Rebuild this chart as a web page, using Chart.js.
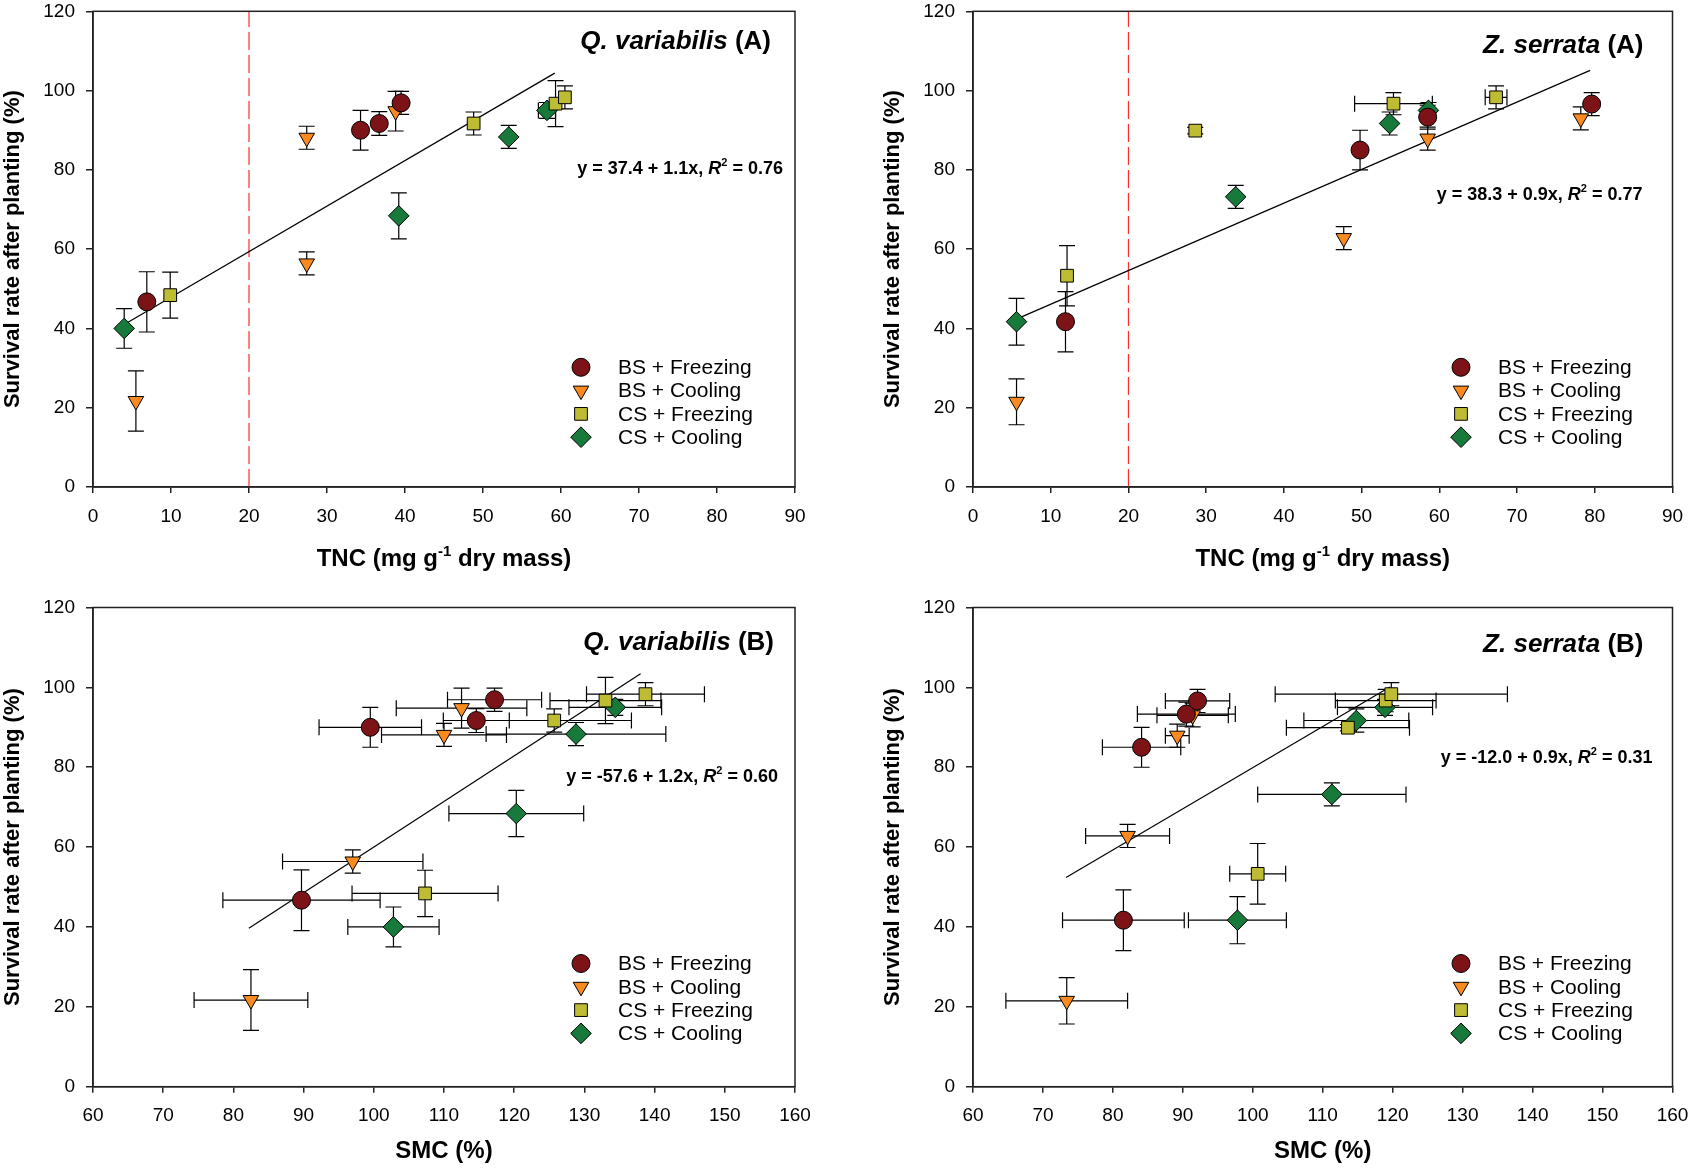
<!DOCTYPE html>
<html>
<head>
<meta charset="utf-8">
<script src="https://cdn.jsdelivr.net/npm/chart.js@4.4.1/dist/chart.umd.min.js"></script>
<style>
html,body{margin:0;padding:0;background:#fff;}
#wrap{position:relative;width:1692px;height:1170px;overflow:hidden;background:#fff;}
#wrap canvas{position:absolute;}
</style>
</head>
<body>
<div id="wrap">
<canvas id="c1" width="846" height="585" style="left:0px;top:0px;width:846px;height:585px"></canvas>
<canvas id="c2" width="846" height="585" style="left:846px;top:0px;width:846px;height:585px"></canvas>
<canvas id="c3" width="846" height="585" style="left:0px;top:585px;width:846px;height:585px"></canvas>
<canvas id="c4" width="846" height="585" style="left:846px;top:585px;width:846px;height:585px"></canvas>
</div>
<script>
// ---------------- DATA ----------------
const groupNames = ['BS + Freezing', 'BS + Cooling', 'CS + Freezing', 'CS + Cooling'];
const survivalTicks = [0, 20, 40, 60, 80, 100, 120];
const tncTicks = [0, 10, 20, 30, 40, 50, 60, 70, 80, 90];
const smcTicks = [60, 70, 80, 90, 100, 110, 120, 130, 140, 150, 160];
const tncThreshold = 20;

// Quercus variabilis (rows: BS+Freezing, BS+Cooling, CS+Freezing, CS+Cooling)
const qvSurvival    = [[46.7, 90.0, 91.7, 96.9], [21.7, 56.4, 88.1, 94.8], [48.4, 91.7, 96.7, 98.3], [40.0, 68.4, 88.3, 95.0]];
const qvSurvivalErr = [[7.6, 5.0, 3.0, 2.9], [7.6, 2.9, 2.9, 5.0], [5.8, 2.9, 5.8, 2.9], [5.0, 5.8, 2.9, 2.0]];
const qvTNC         = [[6.9, 34.3, 36.7, 39.5], [5.5, 27.4, 27.4, 38.8], [9.9, 48.8, 59.3, 60.5], [4.0, 39.2, 53.3, 58.2]];
const qvTNCErr      = [[0, 0, 0, 0], [0, 0, 0, 0], [0, 0, 0, 0], [0, 0, 0, 1.1]];
const qvSMC         = [[89.7, 99.5, 114.6, 117.2], [82.5, 97.0, 110.0, 112.5], [107.3, 125.7, 133.0, 138.7], [102.8, 120.3, 128.8, 134.4]];
const qvSMCErr      = [[11.2, 7.3, 4.7, 6.7], [8.1, 10.0, 8.9, 9.3], [10.4, 11.0, 7.9, 8.4], [6.5, 9.6, 12.8, 6.6]];

// Zelkova serrata
const zsSurvival    = [[41.7, 85.0, 93.3, 96.6], [21.5, 62.8, 87.9, 93.0], [53.3, 89.9, 96.7, 98.3], [41.7, 73.2, 91.7, 95.0]];
const zsSurvivalErr = [[7.6, 5.0, 3.0, 2.9], [5.8, 2.9, 2.9, 2.9], [7.6, 0.8, 2.8, 2.9], [5.9, 2.9, 2.9, 2.0]];
const zsTNC         = [[11.9, 49.8, 58.5, 79.6], [5.6, 47.7, 58.5, 78.2], [12.1, 28.6, 54.1, 67.3], [5.6, 33.8, 53.6, 58.6]];
const zsTNCErr      = [[0, 0, 0, 0], [0, 0, 0, 0], [0, 0, 5.0, 1.4], [0, 0, 0, 0]];
const zsSMC         = [[81.5, 84.1, 90.5, 92.1], [73.4, 82.1, 89.2, 91.4], [100.7, 113.6, 119.0, 119.8], [97.8, 111.3, 114.8, 118.9]];
const zsSMCErr      = [[8.7, 5.6, 7.0, 4.6], [8.7, 6.0, 1.7, 5.1], [4.0, 8.8, 7.2, 16.6], [7.0, 10.6, 7.5, 6.8]];

// Regression lines (end points)
const qvFitTNCx = [4.0, 59.2],   qvFitTNCy = [41.0, 104.4];
const zsFitTNCx = [6.1, 79.4],   zsFitTNCy = [42.8, 105.1];
const qvFitSMCx = [82.2, 138.0], qvFitSMCy = [39.7, 103.4];
const zsFitSMCx = [73.3, 119.6], zsFitSMCy = [52.4, 100.1];

// ---------------- STYLE ----------------
const FAM = "'Liberation Sans', Arial, Helvetica, sans-serif";
Chart.defaults.font.family = FAM;
Chart.defaults.color = '#000';
const AXC = '#222';
const CAP = 8;
const groupStyles = [
  { pointStyle: 'circle',   radius: 9,    rotation: 0,   color: '#7c1417' },
  { pointStyle: 'triangle', radius: 9,    rotation: 180, color: '#f88a20' },
  { pointStyle: 'rect',     radius: 9,    rotation: 0,   color: '#bebc33' },
  { pointStyle: 'rectRot',  radius: 10.3, rotation: 0,   color: '#177a3b' }
];

function segW(ctx, segs) { let w = 0; for (const s of segs) { ctx.font = s.font; w += ctx.measureText(s.t).width; } return w; }
function drawRich(ctx, segs, x, y, align) {
  const w = segW(ctx, segs);
  let cx = align === 'right' ? x - w : (align === 'center' ? x - w / 2 : x);
  ctx.textAlign = 'left'; ctx.textBaseline = 'alphabetic'; ctx.fillStyle = '#000';
  for (const s of segs) { ctx.font = s.font; ctx.fillText(s.t, cx, y + (s.dy || 0)); cx += ctx.measureText(s.t).width; }
}
function marker(ctx, st, x, y) {
  const r = st.radius;
  ctx.beginPath();
  if (st.pointStyle === 'circle') { ctx.arc(x, y, r, 0, Math.PI * 2); }
  else if (st.pointStyle === 'triangle') {
    let a = st.rotation * Math.PI / 180;
    ctx.moveTo(x + Math.sin(a) * r, y - Math.cos(a) * r);
    a += 2 * Math.PI / 3; ctx.lineTo(x + Math.sin(a) * r, y - Math.cos(a) * r);
    a += 2 * Math.PI / 3; ctx.lineTo(x + Math.sin(a) * r, y - Math.cos(a) * r);
    ctx.closePath();
  } else if (st.pointStyle === 'rect') { const s = Math.SQRT1_2 * r; ctx.rect(x - s, y - s, 2 * s, 2 * s); }
  else { ctx.moveTo(x, y - r); ctx.lineTo(x + r, y); ctx.lineTo(x, y + r); ctx.lineTo(x - r, y); ctx.closePath(); }
  ctx.fillStyle = st.color; ctx.fill();
  ctx.strokeStyle = '#000'; ctx.lineWidth = 1; ctx.stroke();
}

function makeDecor(p) {
  return {
    id: 'decor',
    beforeDatasetsDraw(chart) {
      const ctx = chart.ctx, xs = chart.scales.x, ys = chart.scales.y;
      ctx.save(); ctx.strokeStyle = '#000'; ctx.lineWidth = 1.2;
      chart.data.datasets.forEach(ds => {
        if (!ds.errY) return;
        ds.data.forEach((pt, i) => {
          const px = xs.getPixelForValue(pt.x), py = ys.getPixelForValue(pt.y);
          const ey = ds.errY[i], ex = ds.errX[i];
          ctx.beginPath();
          if (ey > 0) {
            const y1 = ys.getPixelForValue(pt.y + ey), y2 = ys.getPixelForValue(pt.y - ey);
            ctx.moveTo(px, y1); ctx.lineTo(px, y2);
            ctx.moveTo(px - CAP, y1); ctx.lineTo(px + CAP, y1);
            ctx.moveTo(px - CAP, y2); ctx.lineTo(px + CAP, y2);
          }
          if (ex > 0) {
            const x1 = xs.getPixelForValue(pt.x - ex), x2 = xs.getPixelForValue(pt.x + ex);
            ctx.moveTo(x1, py); ctx.lineTo(x2, py);
            ctx.moveTo(x1, py - CAP); ctx.lineTo(x1, py + CAP);
            ctx.moveTo(x2, py - CAP); ctx.lineTo(x2, py + CAP);
          }
          ctx.stroke();
        });
      });
      ctx.restore();
    },
    afterDraw(chart) {
      const ctx = chart.ctx, a = chart.chartArea;
      ctx.save();
      ctx.strokeStyle = AXC; ctx.lineWidth = 1.5;
      ctx.strokeRect(a.left, a.top, a.right - a.left, a.bottom - a.top);
      drawRich(ctx, p.title, a.right - p.titleR, a.top + p.titleB, 'right');
      drawRich(ctx, p.eq, a.right - p.eqR, a.top + p.eqB, 'right');
      for (let g = 0; g < 4; g++) {
        const y = a.top + 356 + g * 23.3;
        marker(ctx, groupStyles[g], a.left + 488, y);
        ctx.fillStyle = '#000'; ctx.font = '21px ' + FAM; ctx.textAlign = 'left'; ctx.textBaseline = 'middle';
        ctx.fillText(groupNames[g], a.left + 525, y + 1);
      }
      drawRich(ctx, p.xTitle, (a.left + a.right) / 2, a.bottom + p.xTitleB, 'center');
      ctx.translate(a.left - 80, (a.top + a.bottom) / 2);
      ctx.rotate(-Math.PI / 2);
      ctx.font = 'bold 22px ' + FAM; ctx.textAlign = 'center'; ctx.textBaseline = 'middle'; ctx.fillStyle = '#000';
      ctx.fillText('Survival rate after planting (%)', 0, 0);
      ctx.restore();
    }
  };
}

function buildChart(id, p) {
  const datasets = [];
  for (let g = 0; g < 4; g++) {
    const st = groupStyles[g];
    datasets.push({
      label: groupNames[g],
      data: p.xs[g].map((x, i) => ({ x: x, y: p.ys[g][i] })),
      errX: p.xErr[g], errY: p.yErr[g],
      pointStyle: st.pointStyle, pointRadius: st.radius, pointRotation: st.rotation,
      pointHoverRadius: st.radius,
      backgroundColor: st.color, borderColor: '#000', borderWidth: 1,
      showLine: false, order: 0
    });
  }
  datasets.push({
    label: 'fit', data: p.fitX.map((x, i) => ({ x: x, y: p.fitY[i] })),
    showLine: true, pointRadius: 0, borderColor: '#000', borderWidth: 1.2, fill: false, order: 1
  });
  if (p.threshold != null) {
    datasets.push({
      label: 'threshold',
      data: [{ x: p.threshold, y: survivalTicks[0] }, { x: p.threshold, y: survivalTicks[survivalTicks.length - 1] }],
      showLine: true, pointRadius: 0, borderColor: '#ff2a2a', borderWidth: 1.2, borderDash: [18, 5], fill: false, order: 2
    });
  }
  const tickFont = { family: FAM, size: 19, lineHeight: 1 };
  return new Chart(document.getElementById(id), {
    type: 'scatter',
    data: { datasets: datasets },
    options: {
      responsive: false, animation: false, devicePixelRatio: 1,
      layout: { padding: { left: 0, right: p.padR, top: p.padT, bottom: 0 } },
      plugins: { legend: { display: false }, tooltip: { enabled: false } },
      scales: {
        x: {
          type: 'linear', min: p.xTicks[0], max: p.xTicks[p.xTicks.length - 1],
          afterBuildTicks: s => { s.ticks = p.xTicks.map(v => ({ value: v })); },
          afterFit: s => { s.height = p.xH; s.paddingLeft = 0; s.paddingRight = 0; },
          ticks: { font: tickFont, color: '#000', padding: 14, maxRotation: 0, autoSkip: false },
          grid: { drawOnChartArea: false, drawTicks: true, tickLength: 6, color: AXC, lineWidth: 1.5 },
          border: { display: true, color: AXC, width: 1.5 }
        },
        y: {
          type: 'linear', min: survivalTicks[0], max: survivalTicks[survivalTicks.length - 1],
          afterBuildTicks: s => { s.ticks = survivalTicks.map(v => ({ value: v })); },
          afterFit: s => { s.width = p.yW; s.paddingTop = 0; s.paddingBottom = 0; },
          ticks: { font: tickFont, color: '#000', padding: 11, autoSkip: false },
          grid: { drawOnChartArea: false, drawTicks: true, tickLength: 7, color: AXC, lineWidth: 1.5 },
          border: { display: true, color: AXC, width: 1.5 }
        }
      }
    },
    plugins: [makeDecor(p)]
  });
}

function titleSegs(genus, tag) {
  return [{ t: genus, font: 'italic bold 26px ' + FAM }, { t: ' ' + tag, font: 'bold 26px ' + FAM }];
}
function eqSegs(eq, r2) {
  return [
    { t: eq + ', ', font: 'bold 18px ' + FAM },
    { t: 'R', font: 'italic bold 18px ' + FAM },
    { t: '2', font: 'bold 11px ' + FAM, dy: -8 },
    { t: ' = ' + r2, font: 'bold 18px ' + FAM }
  ];
}
const tncTitle = [
  { t: 'TNC (mg g', font: 'bold 24px ' + FAM },
  { t: '-1', font: 'bold 15px ' + FAM, dy: -10 },
  { t: ' dry mass)', font: 'bold 24px ' + FAM }
];
const smcTitle = [{ t: 'SMC (%)', font: 'bold 24px ' + FAM }];

buildChart('c1', {
  xs: qvTNC, xErr: qvTNCErr, ys: qvSurvival, yErr: qvSurvivalErr, fitX: qvFitTNCx, fitY: qvFitTNCy,
  threshold: tncThreshold, xTicks: tncTicks, yW: 93, xH: 98, padT: 10, padR: 51,
  title: titleSegs('Q. variabilis', '(A)'), titleR: 24, titleB: 38,
  eq: eqSegs('y = 37.4 + 1.1x', '0.76'), eqR: 12, eqB: 163,
  xTitle: tncTitle, xTitleB: 79
});
buildChart('c2', {
  xs: zsTNC, xErr: zsTNCErr, ys: zsSurvival, yErr: zsSurvivalErr, fitX: zsFitTNCx, fitY: zsFitTNCy,
  threshold: tncThreshold, xTicks: tncTicks, yW: 127, xH: 98, padT: 10, padR: 19.5,
  title: titleSegs('Z. serrata', '(A)'), titleR: 29, titleB: 42,
  eq: eqSegs('y = 38.3 + 0.9x', '0.77'), eqR: 30, eqB: 189,
  xTitle: tncTitle, xTitleB: 79
});
buildChart('c3', {
  xs: qvSMC, xErr: qvSMCErr, ys: qvSurvival, yErr: qvSurvivalErr, fitX: qvFitSMCx, fitY: qvFitSMCy,
  threshold: null, xTicks: smcTicks, yW: 93, xH: 83.3, padT: 22.5, padR: 51,
  title: titleSegs('Q. variabilis', '(B)'), titleR: 21, titleB: 42,
  eq: eqSegs('y = -57.6 + 1.2x', '0.60'), eqR: 17, eqB: 174,
  xTitle: smcTitle, xTitleB: 71
});
buildChart('c4', {
  xs: zsSMC, xErr: zsSMCErr, ys: zsSurvival, yErr: zsSurvivalErr, fitX: zsFitSMCx, fitY: zsFitSMCy,
  threshold: null, xTicks: smcTicks, yW: 127, xH: 83.3, padT: 22.5, padR: 19.5,
  title: titleSegs('Z. serrata', '(B)'), titleR: 29, titleB: 44,
  eq: eqSegs('y = -12.0 + 0.9x', '0.31'), eqR: 20, eqB: 155,
  xTitle: smcTitle, xTitleB: 71
});
</script>
</body>
</html>
